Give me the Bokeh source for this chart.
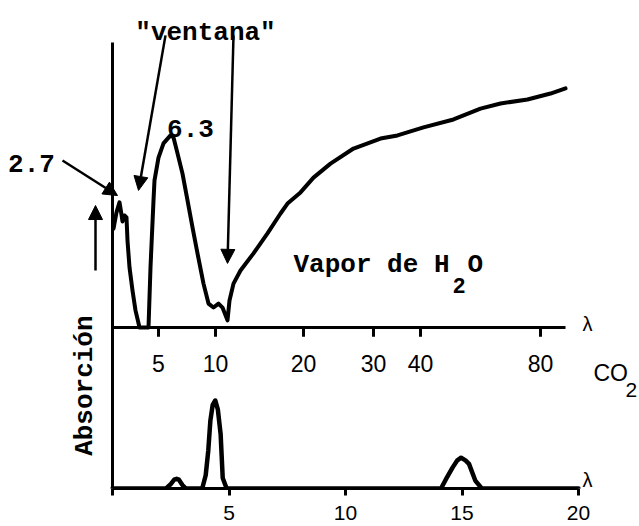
import math
from bokeh.plotting import figure
from bokeh.models import Range1d, FixedTicker, Arrow, NormalHead, Label
from bokeh.embed import file_html
from bokeh.resources import INLINE
from bokeh.core.properties import value

# ---------------- data ----------------
# Upper panel: water vapour absorption, drawn against the hand-drawn
# (non-uniform) wavelength axis; u = position along that axis, a = absorption
h2o_u = [1, 4, 7, 9, 10, 12, 14, 15, 17, 20, 23, 27, 36, 38, 41, 42, 46, 51, 58, 61,
         65, 70, 75, 80, 85, 91, 96, 101, 106, 110, 115, 117, 121, 128, 141, 155, 168,
         175, 188, 201, 218, 241, 268, 285, 311, 341, 368, 388, 415, 438, 453]
h2o_a = [34.7, 40.4, 43.9, 39.6, 37.2, 39.3, 38.6, 30.5, 21.1, 13.0, 6.0, 0.0, 0.0, 21.1,
         44.6, 51.6, 59.6, 64.6, 67.4, 66.7, 61.1, 54.0, 44.6, 35.1, 26.0, 15.4, 8.4, 7.0,
         8.4, 7.0, 2.5, 9.5, 15.4, 20.0, 26.0, 33.0, 40.0, 43.5, 47.4, 52.6, 57.5, 62.8,
         66.3, 67.4, 70.2, 73.0, 76.8, 78.6, 80.0, 82.1, 83.9]
top_tick_pos = [46, 103, 191, 261, 308, 428]
top_tick_labels = ["5", "10", "20", "30", "40", "80"]
top_axis_len = 453
abs_axis_top = 100

# Lower panel: CO2 absorption vs wavelength (µm)
co2_lam = [0.0, 2.3, 2.5, 2.65, 2.75, 2.85, 3.0, 3.15, 3.85, 4.0, 4.11, 4.2, 4.3, 4.41,
           4.52, 4.64, 4.73, 4.9, 14.1, 14.3, 14.6, 14.8, 14.96, 15.15, 15.3, 15.57,
           15.85, 20.0]
co2_abs = [0, 0, 5, 10, 11, 10, 4, 0, 0, 15, 43, 77, 95, 100, 90, 62, 12, 0, 0, 10, 24,
           32, 35, 32, 28, 9, 0, 0]
bottom_ticks = [0, 5, 10, 15, 20]
bottom_tick_labels = {0: "", 5: "5", 10: "10", 15: "15", 20: "20"}

# annotation arrows (start u, start a, end u, end a) in upper-panel units
arrow_x0 = [-50, 53, 121, -17]
arrow_y0 = [58.6, 102.5, 102.5, 20.0]
arrow_x1 = [5, 26, 115, -17]
arrow_y1 = [46.3, 48.1, 22.5, 42.8]

# ---------------- figure ----------------
p = figure(width=639, height=526, x_range=Range1d(-4.807, 22.618), y_range=Range1d(0, 554.5),
           output_backend="svg", toolbar_location=None, y_axis_location=None,
           min_border_left=0, min_border_right=0, min_border_top=0, min_border_bottom=38)
p.extra_x_ranges = {"top": Range1d(-112, 527)}
p.extra_y_ranges = {"top": Range1d(-56.49, 114.74)}

p.grid.visible = False
p.outline_line_color = None
p.background_fill_color = "white"
p.border_fill_color = "white"

# lower wavelength axis
ax = p.xaxis[0]
ax.ticker = FixedTicker(ticks=bottom_ticks)
ax.major_label_overrides = bottom_tick_labels
ax.bounds = (0, 20)
ax.axis_line_width = 3
ax.axis_line_color = "black"
ax.major_tick_line_width = 3
ax.major_tick_line_color = "black"
ax.major_tick_in = 0
ax.major_tick_out = 7
ax.minor_tick_line_color = None
ax.major_label_text_font = "Liberation Sans"
ax.major_label_text_font_size = "21px"
ax.major_label_text_color = "black"
ax.major_label_standoff = 10

# vertical absorption axis line
p.segment(x0=[0], y0=[-56.49], x1=[0], y1=[abs_axis_top], x_range_name="top",
          y_range_name="top", line_width=3, line_color="black")

# upper panel curve
p.line(h2o_u, h2o_a, x_range_name="top", y_range_name="top",
       line_width=4, line_color="black", line_join="round", line_cap="round")

# upper wavelength axis (drawn in the middle of the plot)
p.segment(x0=[0], y0=[0], x1=[top_axis_len], y1=[0], x_range_name="top", y_range_name="top",
          line_width=3, line_color="black")
p.segment(x0=top_tick_pos, y0=[0] * len(top_tick_pos), x1=top_tick_pos,
          y1=[-3.2] * len(top_tick_pos), x_range_name="top", y_range_name="top",
          line_width=3, line_color="black")
p.text(x=top_tick_pos, y=[-12.8] * len(top_tick_pos), text=top_tick_labels,
       x_range_name="top", y_range_name="top", text_align="center", text_baseline="middle",
       text_font=value("Liberation Sans"), text_font_size="23px", text_color="black")

# lower panel curve
p.line(co2_lam, co2_abs, line_width=4.5, line_color="black", line_join="round",
       line_cap="round")

# arrows
for x0, y0, x1, y1 in zip(arrow_x0, arrow_y0, arrow_x1, arrow_y1):
    p.add_layout(Arrow(end=NormalHead(size=14, fill_color="black", line_color="black",
                                      line_width=1),
                       x_start=x0, y_start=y0, x_end=x1, y_end=y1,
                       x_range_name="top", y_range_name="top",
                       line_width=2.5, line_color="black"))

MONO = "Liberation Mono"
SANS = "Liberation Sans"


def lab(x, y, text, font=MONO, size="26px", align="left", baseline="alphabetic",
        angle=0.0, bold=True, rng="top"):
    kw = dict(x_range_name=rng, y_range_name=rng) if rng == "top" else {}
    p.add_layout(Label(x=x, y=y, text=text, text_font=font, text_font_size=size,
                       text_font_style="bold" if bold else "normal",
                       text_align=align, text_baseline=baseline, angle=angle,
                       text_color="black", **kw))


lab(-81, 57.5, "2.7", align="center", baseline="middle")
lab(93, 103.5, '"ventana"', align="center")
lab(78, 69.8, "6.3", align="center")
lab(181, 21.8, "Vapor de H")
lab(340, 14.7, "2", size="22px")
lab(355, 21.8, "O")
lab(-28, -20.4, "Absorción", align="center", baseline="middle", angle=math.pi / 2)
lab(475, 1.4, "λ", font=SANS, size="20px", align="center", baseline="middle", bold=False)
lab(481, -15.8, "CO", font=SANS, size="23px", bold=False)
lab(513, -22.1, "2", font=SANS, size="21px", bold=False)
lab(20.39, 9.1, "λ", font=SANS, size="20px", align="center", baseline="middle",
    bold=False, rng="main")

open("out.html", "w").write(file_html(p, INLINE))
